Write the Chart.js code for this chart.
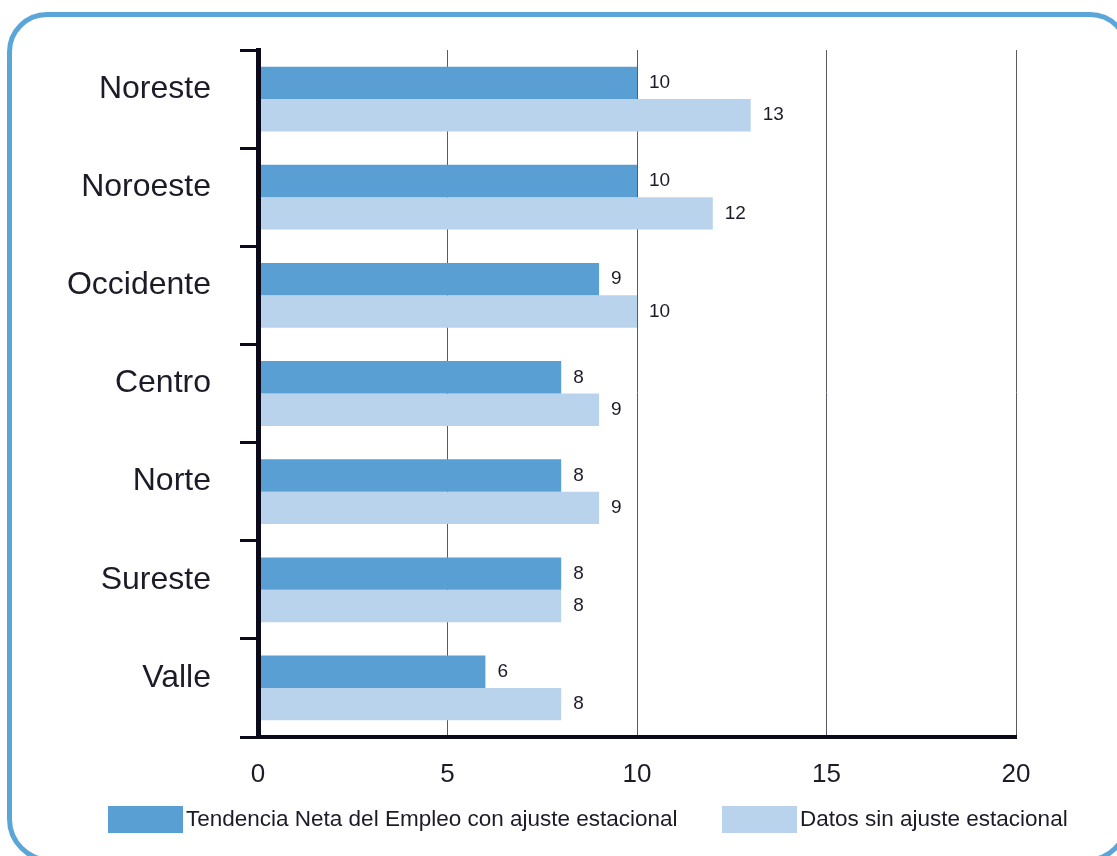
<!DOCTYPE html>
<html>
<head>
<meta charset="utf-8">
<script src="https://cdn.jsdelivr.net/npm/chart.js@4"></script>
<style>
  html, body { margin: 0; padding: 0; background: #fff; overflow: hidden; }
  #wrap { position: relative; width: 1117px; height: 856px; overflow: hidden; }
  #frame {
    position: absolute; left: 7px; top: 12px; width: 1123px; height: 851px;
    box-sizing: border-box; border: 5px solid #5ba6d8; border-radius: 40px 40px 44px 44px;
    pointer-events: none;
  }
</style>
</head>
<body>
<div id="wrap">
  <canvas id="chart" width="1117" height="856"></canvas>
  <div id="frame"></div>
</div>
<script>
const regions = ['Noreste', 'Noroeste', 'Occidente', 'Centro', 'Norte', 'Sureste', 'Valle'];
const ajustado = [10, 10, 9, 8, 8, 8, 6];
const sinAjuste = [13, 12, 10, 9, 9, 8, 8];
const xMax = 20;
const xStep = 5;
const seriesNames = ['Tendencia Neta del Empleo con ajuste estacional', 'Datos sin ajuste estacional'];
const seriesColors = ['#5a9fd4', '#b8d3eb'];

const FONT = '"Liberation Sans", Arial, Helvetica, sans-serif';
const INK = '#1c1c28';

// etiquetas de valor al final de cada barra
const valueLabels = {
  id: 'valueLabels',
  afterDatasetsDraw(chart) {
    const ctx = chart.ctx;
    ctx.save();
    ctx.font = '19px ' + FONT;
    ctx.fillStyle = INK;
    ctx.textAlign = 'left';
    ctx.textBaseline = 'middle';
    chart.data.datasets.forEach((ds, i) => {
      chart.getDatasetMeta(i).data.forEach((bar, j) => {
        ctx.fillText(String(ds.data[j]), bar.x + 12, bar.y);
      });
    });
    ctx.restore();
  }
};

// leyenda dibujada a mano (cajas 75x27, texto pegado a la caja)
const legendSlots = [108, 722];
const bottomLegend = {
  id: 'bottomLegend',
  afterDraw(chart) {
    const ctx = chart.ctx;
    ctx.save();
    ctx.font = '22.5px ' + FONT;
    ctx.textAlign = 'left';
    ctx.textBaseline = 'middle';
    chart.data.datasets.forEach((ds, i) => {
      const x = legendSlots[i];
      ctx.fillStyle = ds.backgroundColor;
      ctx.fillRect(x, 806, 75, 27);
      ctx.fillStyle = INK;
      ctx.fillText(ds.label, x + 78, 820);
    });
    ctx.restore();
  }
};

new Chart(document.getElementById('chart'), {
  type: 'bar',
  data: {
    labels: regions,
    datasets: [
      { label: seriesNames[0], data: ajustado, backgroundColor: seriesColors[0], categoryPercentage: 0.66, barPercentage: 1.0 },
      { label: seriesNames[1], data: sinAjuste, backgroundColor: seriesColors[1], categoryPercentage: 0.66, barPercentage: 1.0 }
    ]
  },
  options: {
    indexAxis: 'y',
    responsive: false,
    animation: false,
    layout: { padding: { top: 50, left: 0, right: 101, bottom: 39 } },
    scales: {
      x: {
        min: 0, max: xMax,
        afterFit: s => { s.height = 80; },
        grid: {
          drawTicks: false,
          color: ctx => ctx.tick && ctx.tick.value === 0 ? 'rgba(0,0,0,0)' : '#5a5a66',
          lineWidth: 1
        },
        border: { color: '#0a0a1a', width: 4 },
        ticks: { stepSize: xStep, font: { family: FONT, size: 26 }, color: INK, padding: 22 }
      },
      y: {
        afterFit: s => { s.width = 258; },
        grid: { offset: true, drawOnChartArea: false, tickLength: 18, color: '#0a0a1a', lineWidth: 3 },
        border: { color: '#0a0a1a', width: 5, z: 1 },
        ticks: { font: { family: FONT, size: 32 }, color: INK, padding: 29, labelOffset: -10 }
      }
    },
    plugins: {
      legend: { display: false },
      tooltip: { enabled: false }
    }
  },
  plugins: [valueLabels, bottomLegend]
});
</script>
</body>
</html>
